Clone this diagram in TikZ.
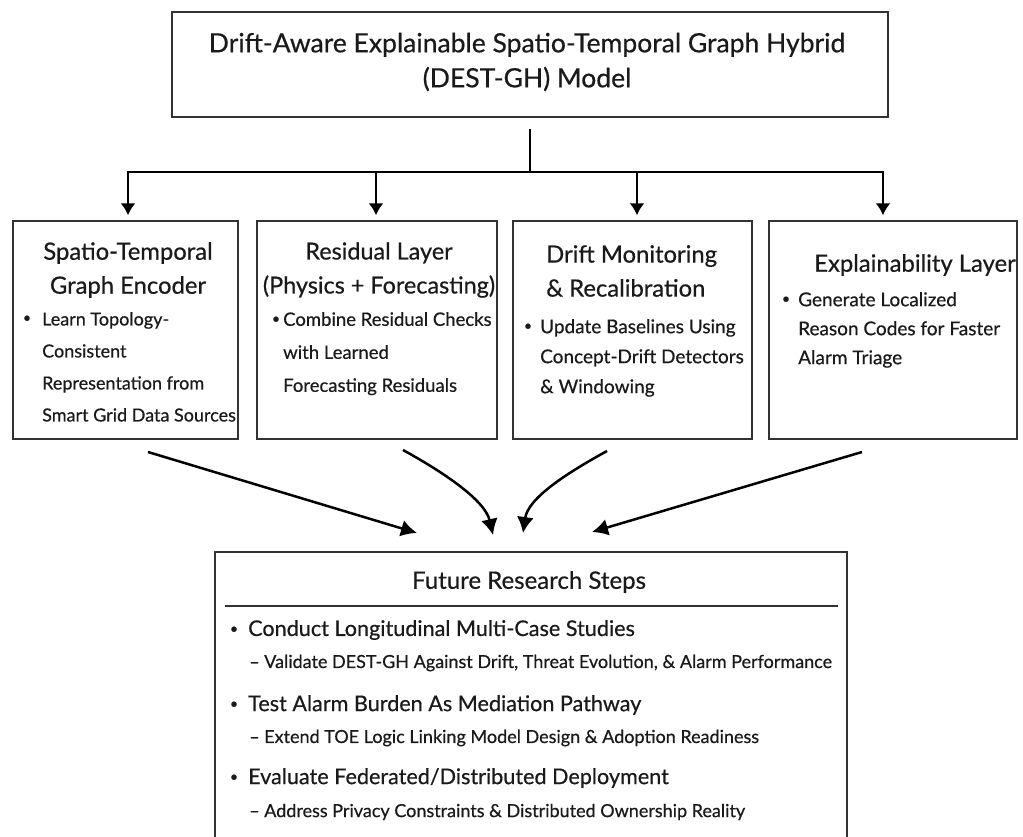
\documentclass[tikz,border=0pt]{standalone}
\usepackage{fontspec}
\setmainfont{Lato}[FakeBold=0.5]
\usetikzlibrary{arrows.meta}
\definecolor{ink}{HTML}{1A1A1A}
\definecolor{edge}{HTML}{333333}
\begin{document}
\begin{tikzpicture}[x=1pt,y=-1pt,
  box/.style={draw=edge, line width=1.5pt, fill=white, inner sep=0pt},
  conn/.style={draw=black, line width=2pt},
  arr/.style={conn, -{Latex[length=12pt,width=15pt]}},
  bigarr/.style={draw=black, line width=2.5pt, -{Latex[length=16pt,width=17pt]}},
  title/.style={font=\fontsize{26.5}{35}\selectfont, text=ink, align=center, inner sep=0pt},
  head/.style={font=\fontsize{23.8}{34}\selectfont, text=ink, align=center, inner sep=0pt},
  body/.style={font=\fontsize{19}{32}\selectfont, text=ink, align=left, inner sep=0pt, anchor=north west},
  dot/.style={font=\fontsize{14}{14}\selectfont, text=ink, inner sep=0pt},
  fhead/.style={font=\fontsize{24}{28}\selectfont, text=ink, inner sep=0pt},
  fitem/.style={font=\fontsize{21.6}{24}\selectfont, text=ink, inner sep=0pt, anchor=west},
  fsub/.style={font=\fontsize{18}{20}\selectfont, text=ink, inner sep=0pt, anchor=west}]

\useasboundingbox (0,0) rectangle (1023,836);
\fill[white] (0,0) rectangle (1023,836);

% model box
\node[box, minimum width=716pt, minimum height=105pt] (top) at (530,64.5) {};
\node[title] (ttl) at (527,62) {Drift-Aware Explainable Spatio-Temporal Graph Hybrid\\(DEST-GH) Model};

% component boxes
\node[box, minimum width=225pt, minimum height=218pt] (b1) at (125.5,330) {};
\node[box, minimum width=240pt, minimum height=218pt] (b2) at (377,330) {};
\node[box, minimum width=239pt, minimum height=218pt] (b3) at (632.5,330) {};
\node[box, minimum width=248pt, minimum height=218pt] (b4) at (893,330) {};

% distribution bus
\coordinate (bus) at (530,172);
\coordinate (t1) at (128,172);
\coordinate (t2) at (376,172);
\coordinate (t3) at (637,172);
\coordinate (t4) at (883,172);
\draw[conn, shorten <=11pt] (top.south) -- (bus);
\draw[conn, line cap=rect] (t1) -- (t4);
\draw[arr, shorten >=5pt] (t1) -- (t1 |- b1.north);
\draw[arr, shorten >=5pt] (t2) -- (t2 |- b2.north);
\draw[arr, shorten >=5pt] (t3) -- (t3 |- b3.north);
\draw[arr, shorten >=5pt] (t4) -- (t4 |- b4.north);

% box 1
\node[head] (h1) at (128,270) {Spatio-Temporal\\Graph Encoder};
\node[dot] (d1) at (27,319) {\textbullet};
\node[body, font=\fontsize{18}{32}\selectfont] (x1) at (42,312) {Learn Topology-\\Consistent\\Representation from\\Smart Grid Data Sources};

% box 2
\node[head, font=\fontsize{23.4}{34}\selectfont] (h2) at (379,270) {Residual Layer\\(Physics + Forecasting)};
\node[dot] (d2) at (276,320) {\textbullet};
\node[body, font=\fontsize{18.5}{33}\selectfont] (x2) at (283,312) {Combine Residual Checks\\with Learned\\Forecasting Residuals};

% box 3
\node[head, align=left, anchor=west] (h3) at (546,271) {Drift Monitoring\\\& Recalibration};
\node[dot] (d3) at (528,327) {\textbullet};
\node[body, font=\fontsize{19}{30}\selectfont] (x3) at (540,319) {Update Baselines Using\\Concept-Drift Detectors\\\& Windowing};

% box 4
\node[head] (h4) at (915,265) {Explainability Layer};
\node[dot] (d4) at (786,300) {\textbullet};
\node[body, font=\fontsize{19}{29}\selectfont] (x4) at (798,292) {Generate Localized\\Reason Codes for Faster\\Alarm Triage};

% future research box
\node[box, minimum width=632pt, minimum height=290pt] (fb) at (531,697) {};
\node[fhead] (fh) at (529,582) {Future Research Steps};
\draw[draw=edge, line width=1.3pt] (225,606) -- (838,606);

\node[dot] (fd1) at (234,630) {\textbullet};
\node[fitem] (f1) at (248,630) {Conduct Longitudinal Multi-Case Studies};
\node[fsub] (s1) at (249,663) {– Validate DEST-GH Against Drift, Threat Evolution, \& Alarm Performance};
\node[dot] (fd2) at (234,705) {\textbullet};
\node[fitem] (f2) at (248,705) {Test Alarm Burden As Mediation Pathway};
\node[fsub] (s2) at (249,738) {– Extend TOE Logic Linking Model Design \& Adoption Readiness};
\node[dot] (fd3) at (234,778) {\textbullet};
\node[fitem] (f3) at (248,778) {Evaluate Federated/Distributed Deployment};
\node[fsub] (s3) at (249,812) {– Address Privacy Constraints \& Distributed Ownership Reality};

% converging arrows
\coordinate (a1s) at (148,452);
\coordinate (a1e) at (417,533);
\coordinate (a2s) at (403,450);
\coordinate (a2e) at (493,535);
\coordinate (a3s) at (607,451);
\coordinate (a3e) at (523,533);
\coordinate (a4s) at (862,452);
\coordinate (a4e) at (592,532);
\draw[bigarr] (a1s) -- (a1e);
\draw[bigarr] (a2s) .. controls (443,472) and (485,500) .. (a2e);
\draw[bigarr] (a3s) .. controls (567,473) and (528,498) .. (a3e);
\draw[bigarr] (a4s) -- (a4e);
\end{tikzpicture}
\end{document}
